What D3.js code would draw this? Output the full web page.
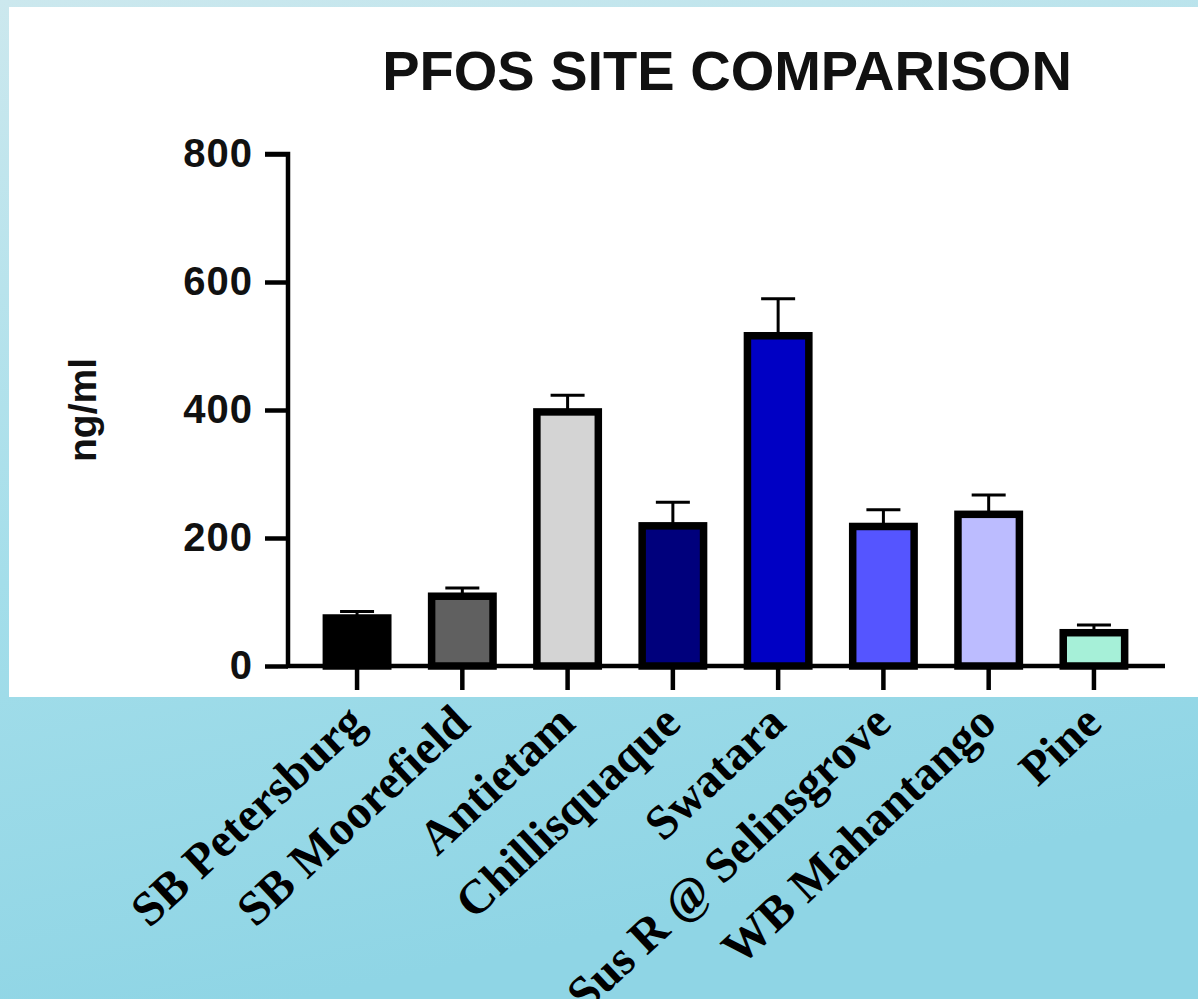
<!DOCTYPE html>
<html>
<head>
<meta charset="utf-8">
<script src="https://cdn.jsdelivr.net/npm/d3@7"></script>
<style>
  html, body { margin: 0; padding: 0; overflow: hidden; }
  svg { display: block; }
</style>
</head>
<body>
<svg id="chart" width="1198" height="999"></svg>
<script>
// PFOS concentrations by sampling site (mean with upper SEM bar)
const sites = ["SB Petersburg", "SB Moorefield", "Antietam", "Chillisquaque",
               "Swatara", "Sus R @ Selinsgrove", "WB Mahantango", "Pine"];
const means = [75, 109, 397, 219, 516, 218, 237, 52];
const errors = [10, 13, 26, 37, 58, 26, 30, 12];
const fills = ["#000000", "#606060", "#d4d4d4", "#00007c", "#0000c4", "#5555ff", "#bcbcff", "#a6f0d8"];
const yTicks = [0, 200, 400, 600, 800];

const svg = d3.select("#chart");
const W = 1198, H = 999;

// page background
const defs = svg.append("defs");
const bg = defs.append("linearGradient").attr("id", "bg")
  .attr("x1", "0").attr("y1", "0").attr("x2", "0.25").attr("y2", "1");
bg.append("stop").attr("offset", "0").attr("stop-color", "#cce8ee");
bg.append("stop").attr("offset", "0.55").attr("stop-color", "#a4deea");
bg.append("stop").attr("offset", "1").attr("stop-color", "#8fd5e5");
svg.append("rect").attr("width", W).attr("height", H).attr("fill", "url(#bg)");

// white chart panel
svg.append("rect").attr("x", 9).attr("y", 7).attr("width", W - 9).attr("height", 690).attr("fill", "#ffffff");

const y = d3.scaleLinear().domain([0, 800]).range([666, 154]);
const x = d3.scaleBand().domain(sites).range([286, 1165]).paddingInner(0.35).paddingOuter(0.35);
const cx = d => x(d) + x.bandwidth() / 2;

// title
svg.append("text")
  .attr("x", 727).attr("y", 90)
  .attr("text-anchor", "middle")
  .style("font-family", "'Liberation Sans', Arial, sans-serif")
  .style("font-weight", "bold").style("font-size", "56px")
  .attr("fill", "#111")
  .text("PFOS SITE COMPARISON");

// y axis
const yAxis = d3.axisLeft(y).tickValues(yTicks).tickSize(23).tickPadding(12);
const gy = svg.append("g").attr("transform", "translate(288,0)").call(yAxis);
gy.select(".domain").attr("d", `M-23,${y(800)}H0V${y(0)}`).attr("stroke", "#000").attr("stroke-width", 4.5);
gy.selectAll(".tick line").attr("stroke", "#000").attr("stroke-width", 4.5);
gy.selectAll(".tick text")
  .style("font-family", "'Liberation Sans', Arial, sans-serif")
  .style("font-weight", "bold").style("font-size", "40px")
  .style("letter-spacing", "1px")
  .attr("fill", "#111");

svg.append("text")
  .attr("transform", `translate(96,${y(400)}) rotate(-90)`)
  .attr("text-anchor", "middle")
  .style("font-family", "'Liberation Sans', Arial, sans-serif")
  .style("font-weight", "bold").style("font-size", "39px")
  .attr("fill", "#111")
  .text("ng/ml");

// error bars (upper only)
const eb = svg.append("g").selectAll("g").data(sites).join("g");
eb.append("line")
  .attr("x1", cx).attr("x2", cx)
  .attr("y1", (d, i) => y(means[i])).attr("y2", (d, i) => y(means[i] + errors[i]))
  .attr("stroke", "#000").attr("stroke-width", 3);
eb.append("line")
  .attr("x1", d => cx(d) - 17).attr("x2", d => cx(d) + 17)
  .attr("y1", (d, i) => y(means[i] + errors[i])).attr("y2", (d, i) => y(means[i] + errors[i]))
  .attr("stroke", "#000").attr("stroke-width", 3);

// bars
svg.append("g").selectAll("rect").data(sites).join("rect")
  .attr("x", d => x(d) + 3.5)
  .attr("width", x.bandwidth() - 7)
  .attr("y", (d, i) => y(means[i]))
  .attr("height", (d, i) => y(0) - y(means[i]))
  .attr("fill", (d, i) => fills[i])
  .attr("stroke", "#000").attr("stroke-width", 7.5);

// x axis
const xAxis = d3.axisBottom(x).tickSize(24).tickFormat("");
const gx = svg.append("g").attr("transform", `translate(0,${y(0)})`).call(xAxis);
gx.select(".domain").attr("d", "M286,0H1165").attr("stroke", "#000").attr("stroke-width", 4.5);
gx.selectAll(".tick line").attr("stroke", "#000").attr("stroke-width", 4.5);

// category labels
svg.append("g").selectAll("text").data(sites).join("text")
  .attr("transform", d => `translate(${cx(d) + 10},726) rotate(-43)`)
  .attr("text-anchor", "end")
  .style("font-family", "'Liberation Serif', 'Times New Roman', serif")
  .style("font-weight", "bold").style("font-size", "48px")
  .attr("fill", "#000")
  .text(d => d);
</script>
</body>
</html>
